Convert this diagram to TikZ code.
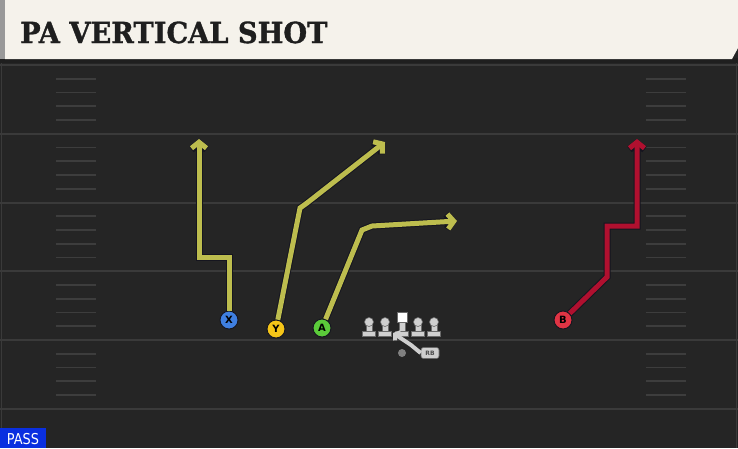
\documentclass[tikz,border=0pt]{standalone}
\usepackage{fontspec}
\usetikzlibrary{arrows.meta}
\newfontfamily\titlefont{DejaVu Serif Bold}[FakeBold=1.2]
\newfontfamily\labelfont{DejaVu Sans}
\definecolor{fieldbg}{HTML}{252525}
\definecolor{fieldline}{HTML}{3A3A3A}
\definecolor{hashcol}{HTML}{3D3D3D}
\definecolor{cream}{HTML}{F5F2EB}
\definecolor{titleink}{HTML}{1E1E1E}
\definecolor{passblue}{HTML}{0A2FE0}
\definecolor{routey}{HTML}{BDBD4E}
\definecolor{router}{HTML}{B0102F}
\definecolor{routeedge}{HTML}{15151F}
\definecolor{xblue}{HTML}{3F7FE0}
\definecolor{yyellow}{HTML}{F5C518}
\definecolor{agreen}{HTML}{5BCB3A}
\definecolor{bred}{HTML}{E03444}
\definecolor{olgray}{HTML}{CFCFCF}
\definecolor{olrim}{HTML}{6A6A6A}
\tikzset{
  yardline/.style={draw=fieldline, line width=2pt},
  hashmark/.style={draw=hashcol, line width=1.6pt},
  route/.style={draw=#1, line width=5pt,
    -{Straight Barb[length=6pt,width=15pt]},
    preaction={draw=routeedge, line width=7pt}},
  player/.style={circle, fill=#1, draw=routeedge, line width=0.9pt,
    minimum size=18pt, inner sep=0pt,
    font=\labelfont\bfseries\fontsize{10}{10}\selectfont, text=black},
  olpart/.style={fill=olgray, draw=olrim, line width=0.6pt},
  lineman/.pic={
    \path[olpart] (-6.5,9) rectangle (6.5,14.5);
    \path[olpart] (-3,0) rectangle (3,9.5);
    \path[olpart] (0,0) circle (4.5);
  },
}
\begin{document}
\begin{tikzpicture}[x=1pt,y=-1pt]
\useasboundingbox (0,0) rectangle (738,448);
\fill[fieldbg] (0,0) rectangle (738,448);
% side edges
\draw[fieldline, line width=1.5pt] (1.5,60) -- (1.5,448);
\draw[fieldline, line width=1.5pt] (736.5,60) -- (736.5,448);
% yard lines
\foreach \k in {0,...,5}
  \draw[yardline] (0,{65+68.75*\k}) -- (738,{65+68.75*\k});
% hash marks
\foreach \j in {1,...,24}{
  \pgfmathtruncatemacro\m{mod(\j,5)}
  \ifnum\m>0
    \draw[hashmark] (56,{65+13.75*\j}) -- (96,{65+13.75*\j});
    \draw[hashmark] (646,{65+13.75*\j}) -- (686,{65+13.75*\j});
  \fi
}
% header
\fill[black!88] (0,58) rectangle (738,63);
\fill[cream] (5,0) -- (738,0) -- (738,48) -- (732,59) -- (5,59) -- cycle;
\fill[black!40] (0,0) rectangle (5,59);
\node[anchor=base west, inner sep=0pt, text=titleink, xscale=0.94,
  font=\titlefont\fontsize{29}{29}\selectfont] (title) at (20,43) {PA VERTICAL SHOT};
% pass tag
\fill[passblue] (0,428) rectangle (46,448);
\node[anchor=center, inner sep=0pt, text=white, xscale=0.86,
  font=\labelfont\fontsize{15}{15}\selectfont] (pass) at (23,439) {PASS};
% players
\node[player=xblue] (X) at (229,320) {X};
\node[player=yyellow] (Y) at (276,329) {Y};
\node[player=agreen] (A) at (322,328) {A};
\node[player=bred] (B) at (563,320) {B};
% route corners
\coordinate (xc1) at (229,257);
\coordinate (xc2) at (199,257);
\coordinate (xend) at (199,139);
\coordinate (yc1) at (300,208);
\coordinate (yc2) at (307,203);
\coordinate (yend) at (385,142);
\coordinate (ac1) at (362,230);
\coordinate (ac2) at (372,226);
\coordinate (aend) at (457,221);
\coordinate (bc1) at (607,277);
\coordinate (bc2) at (607,226);
\coordinate (bc3) at (637,226);
\coordinate (bend) at (637,139);
% routes
\draw[route=routey] (X) -- (xc1) -- (xc2) -- (xend);
\draw[route=routey] (Y) -- (yc1) -- (yc2) -- (yend);
\draw[route=routey] (A) -- (ac1) -- (ac2) -- (aend);
\draw[route=router] (B) -- (bc1) -- (bc2) -- (bc3) -- (bend);
% offensive line
\pic at (369,322) {lineman};
\pic at (385,322) {lineman};
\pic at (418,322) {lineman};
\pic at (434,322) {lineman};
\path[olpart] (395.5,331) rectangle (408.5,336.5);
\path[olpart] (399,321) rectangle (405,331.5);
\node[fill=white, draw=olrim, line width=0.6pt, minimum size=10pt, inner sep=0pt] (C) at (402,317.5) {};
% QB and RB
\coordinate (rb1) at (411,345);
\coordinate (rbend) at (393,333);
\node[circle, fill=black!50, minimum size=8pt, inner sep=0pt] (QB) at (402,353) {};
\node[rounded corners=2.5pt, fill=olgray, draw=olrim, line width=0.6pt,
  minimum width=18pt, minimum height=11pt, inner sep=0pt,
  font=\labelfont\bfseries\fontsize{6}{6}\selectfont, text=black!70] (RB) at (430,353) {RB};
\draw[olgray, line width=4pt, -{Straight Barb[length=3.5pt,width=10pt]}] (RB.west) -- (rb1) -- (rbend);
\end{tikzpicture}
\end{document}
